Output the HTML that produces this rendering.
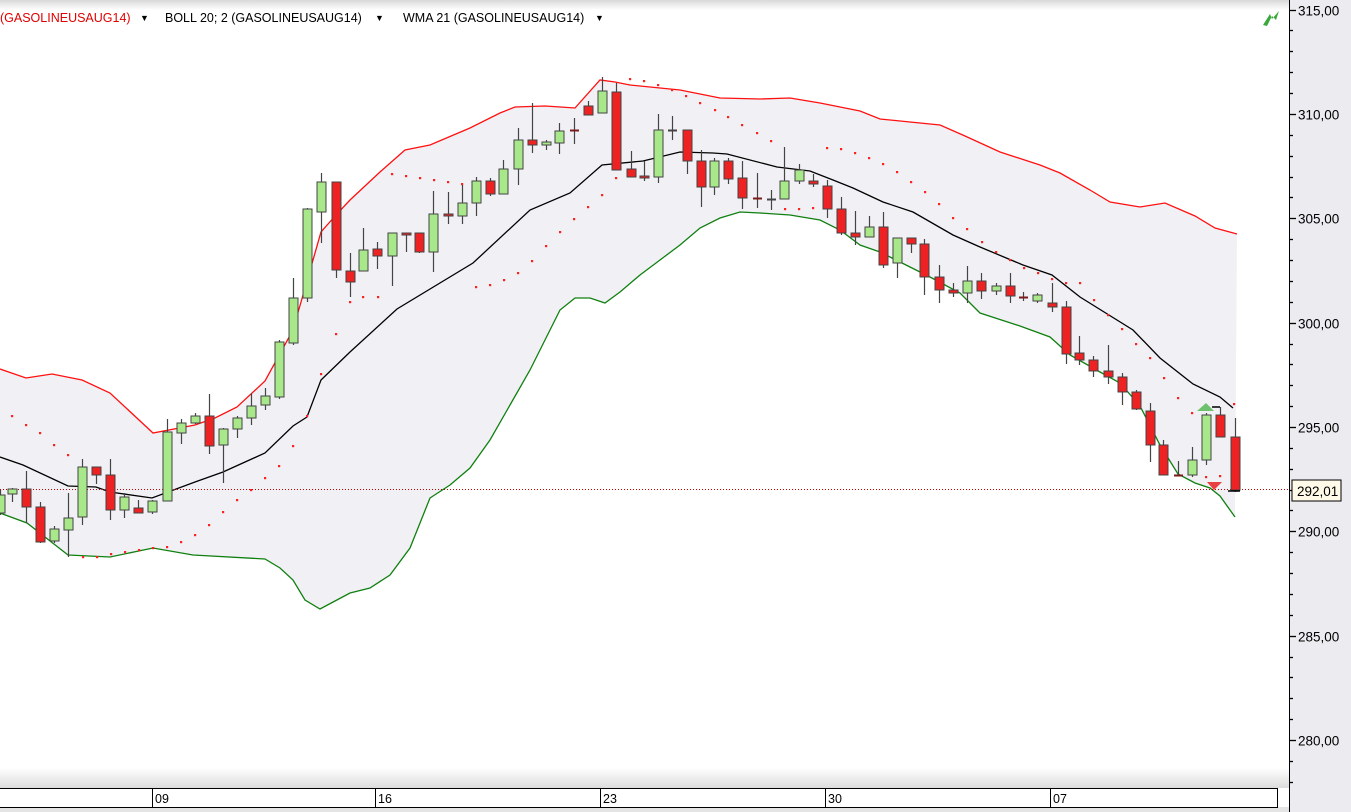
<!DOCTYPE html>
<html><head><meta charset="utf-8"><style>
html,body{margin:0;padding:0;background:#fff;}
svg{display:block;font-family:"Liberation Sans",sans-serif;}
</style></head><body>
<svg id="s" width="1351" height="812" xmlns="http://www.w3.org/2000/svg">
<defs>
<linearGradient id="gt" x1="0" y1="0" x2="0" y2="1"><stop offset="0" stop-color="#d8d8d8"/><stop offset="1" stop-color="#fff"/></linearGradient>
<linearGradient id="gb" x1="0" y1="0" x2="0" y2="1"><stop offset="0" stop-color="#fff"/><stop offset="1" stop-color="#dcdcdc"/></linearGradient>
</defs>
<rect x="0" y="0" width="1351" height="812" fill="#fff"/>
<rect x="0" y="0" width="1289" height="10" fill="url(#gt)"/>
<rect x="0" y="768" width="1289" height="20" fill="url(#gb)"/>
<rect x="0" y="807" width="1289" height="5" fill="#e4e4e4"/>
<rect x="1289" y="0" width="62" height="812" fill="#ececf0"/>
<line x1="1289.5" y1="0" x2="1289.5" y2="812" stroke="#000"/>
<g id="bands"></g>
<g id="sar" fill="#ff2020"></g>
<line x1="0" y1="489.5" x2="1289" y2="489.5" stroke="#c00000" stroke-dasharray="1,2"/>
<g id="cand"></g>
<g id="axis" font-size="13.5" fill="#000"></g>
<rect x="1292" y="480" width="49" height="21" fill="#fffbe8" stroke="#000"/>
<text x="1297" y="496" font-size="13.5">292,01</text>
<rect x="0" y="788" width="1278" height="19" fill="#fff"/>
<line x1="0" y1="788.5" x2="1278" y2="788.5" stroke="#000"/>
<line x1="0" y1="807.5" x2="1278" y2="807.5" stroke="#000"/>
<line x1="1277.5" y1="788" x2="1277.5" y2="807" stroke="#000"/>
<g font-size="12.5" fill="#000">
<line x1="152.5" y1="788" x2="152.5" y2="807" stroke="#000"/><text x="155" y="803">09</text>
<line x1="375.5" y1="788" x2="375.5" y2="807" stroke="#000"/><text x="378" y="803">16</text>
<line x1="600.5" y1="788" x2="600.5" y2="807" stroke="#000"/><text x="603" y="803">23</text>
<line x1="825.5" y1="788" x2="825.5" y2="807" stroke="#000"/><text x="828" y="803">30</text>
<line x1="1050.5" y1="788" x2="1050.5" y2="807" stroke="#000"/><text x="1053" y="803">07</text>
</g>
<g font-size="12.5">
<text x="0" y="22" fill="#e00000">(GASOLINEUSAUG14)</text><text x="140" y="21" font-size="9" fill="#000">▼</text>
<text x="165" y="22" fill="#000">BOLL 20; 2 (GASOLINEUSAUG14)</text><text x="375" y="21" font-size="9" fill="#000">▼</text>
<text x="403" y="22" fill="#000">WMA 21 (GASOLINEUSAUG14)</text><text x="595" y="21" font-size="9" fill="#000">▼</text>
</g>
<path d="M1263 25 L1270 14 L1272 19 L1279 11 L1276 20 L1272 16 L1267 26 Z" fill="#3aa83a"/>
</svg>
<script>
const NS="http://www.w3.org/2000/svg";
function el(p,t,a){const e=document.createElementNS(NS,t);for(const k in a)e.setAttribute(k,a[k]);p.appendChild(e);return e;}
const up=[[0,369],[26,378],[52,374],[82,380],[110,393],[153,433],[195,425],[215,418],[237,407],[265,381],[293,330],[321,232],[336,215],[350,200],[380,172],[405,150],[430,145],[470,128],[500,113],[515,107],[545,106],[575,108],[600,80],[615,82],[630,85],[680,90],[720,98],[760,99],[790,98],[820,103],[860,111],[880,119],[910,122],[940,125],[965,136],[1000,152],[1040,165],[1060,173],[1090,190],[1110,202],[1140,207],[1165,203],[1195,216],[1215,228],[1237,234]];
const lo=[[0,513],[27,523],[68,555],[110,557],[153,548],[193,555],[265,559],[280,568],[293,580],[305,600],[320,609],[335,601],[350,593],[370,588],[390,575],[410,548],[430,498],[450,485],[470,468],[490,440],[510,405],[530,370],[550,330],[560,310],[575,298],[590,298],[605,303],[620,292],[640,275],[660,260],[680,245],[700,228],[720,218],[740,212],[760,213],[790,215],[820,220],[840,230],[860,245],[880,252],[900,262],[930,277],[960,293],[980,313],[1020,326],[1050,337],[1070,355],[1100,372],[1120,383],[1140,406],[1160,445],[1178,474],[1195,483],[1210,488],[1220,496],[1235,517]];
const mid=[[0,457],[23,465],[68,486],[96,487],[110,492],[152,498],[195,482],[223,472],[265,453],[293,426],[307,417],[321,380],[350,352],[397,309],[473,263],[530,210],[570,193],[602,165],[643,161],[680,152],[713,153],[727,154],[777,167],[810,171],[833,180],[853,188],[883,202],[913,212],[953,235],[980,247],[1023,265],[1052,275],[1080,297],[1133,330],[1160,358],[1193,384],[1220,397],[1233,408]];
const B=document.getElementById('bands');
const pts=a=>a.map(p=>p.join(',')).join(' ');
el(B,'polygon',{points:pts(up)+' '+pts(lo.slice().reverse()),fill:'#f1f1f5'});
el(B,'polyline',{points:pts(up),fill:'none',stroke:'#ff1010','stroke-width':1.3});
el(B,'polyline',{points:pts(lo),fill:'none',stroke:'#108010','stroke-width':1.3});
el(B,'polyline',{points:pts(mid),fill:'none',stroke:'#000','stroke-width':1.3});
const sar=[[12,416],[26,425],[40,433],[54,445],[68,455],[83,557],[97,557],[111,554],[125,552],[139,550],[153,548],[167,547],[181,542],[195,535],[209,525],[223,512],[237,500],[251,490],[265,478],[279,466],[293,446],[307,416],[321,374],[336,334],[350,302],[363,297],[378,297],[392,174],[406,176],[420,178],[434,180],[448,182],[462,184],[476,287],[490,285],[504,280],[518,273],[532,261],[546,246],[560,232],[574,219],[588,207],[602,195],[616,178],[630,79],[644,81],[658,85],[672,90],[686,96],[700,103],[715,110],[728,117],[742,125],[757,133],[771,141],[785,209],[799,209],[813,208],[827,148],[841,149],[855,153],[869,158],[883,164],[897,172],[911,182],[925,192],[939,204],[953,218],[967,229],[982,242],[996,252],[1010,260],[1024,268],[1038,273],[1052,279],[1066,283],[1080,283],[1094,300],[1108,315],[1122,329],[1136,344],[1150,358],[1164,378],[1178,398],[1192,413],[1206,477],[1220,476],[1234,404]];
const S=document.getElementById('sar');
sar.forEach(p=>el(S,'rect',{x:p[0]-1,y:p[1]-1,width:2.2,height:2.2}));
// x, bodyTop, bodyBot, high, low, green?
const C=[[0,495,513,490,515,1],[12,489,494,488,502,1],[26,489,507,471,523,0],[40,507,542,502,543,0],[54,529,541,526,543,1],[68,518,530,493,557,1],[82,467,517,459,525,1],[96,467,475,467,484,0],[110,475,510,459,520,0],[124,497,510,493,518,1],[138,508,513,500,513,0],[152,501,512,500,514,1],[167,432,501,419,501,1],[181,423,433,419,444,1],[195,416,423,413,424,1],[209,416,446,394,454,0],[223,429,445,428,483,1],[237,418,429,416,438,1],[251,406,418,393,425,1],[265,396,405,388,410,1],[279,342,397,340,399,1],[293,298,343,278,345,1],[307,209,298,208,302,1],[321,182,212,173,243,1],[336,182,270,182,278,0],[350,271,282,253,297,0],[363,250,271,228,271,1],[377,249,256,242,269,0],[392,233,256,233,286,1],[406,233,235,233,252,0],[419,233,252,233,253,0],[433,214,252,191,272,1],[448,214,216,192,224,0],[462,203,216,185,224,1],[476,181,203,177,216,1],[490,181,194,178,196,0],[503,169,194,160,194,1],[518,140,169,128,185,1],[532,140,145,103,153,0],[546,142,145,140,150,1],[559,131,143,123,154,1],[574,130,131,118,144,0],[588,106,115,101,115,0],[602,91,113,77,113,1],[616,92,170,83,170,0],[631,169,177,151,177,0],[644,176,178,161,181,0],[658,130,177,114,183,1],[672,130,131,116,140,1],[687,130,161,130,174,0],[701,161,187,150,207,0],[714,161,187,158,195,1],[728,161,179,158,184,0],[742,178,198,161,209,0],[757,198,199,173,208,0],[771,199,200,190,210,1],[784,181,199,147,199,1],[799,170,181,164,184,1],[813,181,184,174,187,0],[827,186,209,180,218,0],[841,209,233,197,235,0],[855,233,237,211,245,0],[869,227,237,216,237,1],[883,227,265,212,268,0],[897,238,263,238,278,1],[911,238,244,238,253,0],[924,244,277,239,295,0],[939,277,290,265,303,0],[953,290,293,283,297,0],[967,281,293,266,303,1],[981,281,291,273,299,0],[996,286,291,283,295,1],[1010,286,296,273,303,0],[1023,297,298,292,301,0],[1037,295,301,293,303,1],[1052,303,307,283,312,0],[1066,307,354,301,364,0],[1079,353,360,336,365,0],[1093,360,371,356,377,0],[1108,371,377,345,384,0],[1122,377,392,373,405,0],[1136,392,409,390,410,0],[1150,411,445,403,462,0],[1163,445,475,440,475,0],[1178,475,476,461,475,0],[1192,460,475,447,477,1],[1206,415,460,413,465,1],[1220,415,437,407,437,0],[1235,437,490,418,492,0]];
const G=document.getElementById('cand');
C.forEach(c=>{const[x,t,b,h,l,g]=c;
el(G,'line',{x1:x+0.5,y1:h,x2:x+0.5,y2:l,stroke:'#444','stroke-width':1.2});
if(b-t<2){el(G,'line',{x1:x-4,y1:t+0.5,x2:x+5,y2:t+0.5,stroke:g?'#444':'#7a1a1a','stroke-width':2});}
else el(G,'rect',{x:x-4,y:t,width:9,height:b-t,fill:g?'#a8e88a':'#ee2222',stroke:'#444','stroke-width':1});
});
el(G,'path',{d:'M1197 411 L1206 403 L1214 411 Z',fill:'#6cc26c'});
el(G,'path',{d:'M1207 482 L1222 482 L1214 490 Z',fill:'#e84040'});
el(G,'line',{x1:1212,y1:407,x2:1220,y2:407,stroke:'#000','stroke-width':1.5});
el(G,'line',{x1:1228,y1:491,x2:1240,y2:491,stroke:'#000','stroke-width':1.5});
const A=document.getElementById('axis');
const y=p=>427-(p-295)*20.87;
for(let p=278;p<=316;p++){const yy=Math.round(y(p))+0.5;const major=p%5==0;
el(A,'line',{x1:1289,y1:yy,x2:major?1296:1293,y2:yy,stroke:'#000','stroke-width':1.3});
if(major){const t=el(A,'text',{x:1298,y:yy+5});t.textContent=p+',00';}}
</script>
</body></html>
